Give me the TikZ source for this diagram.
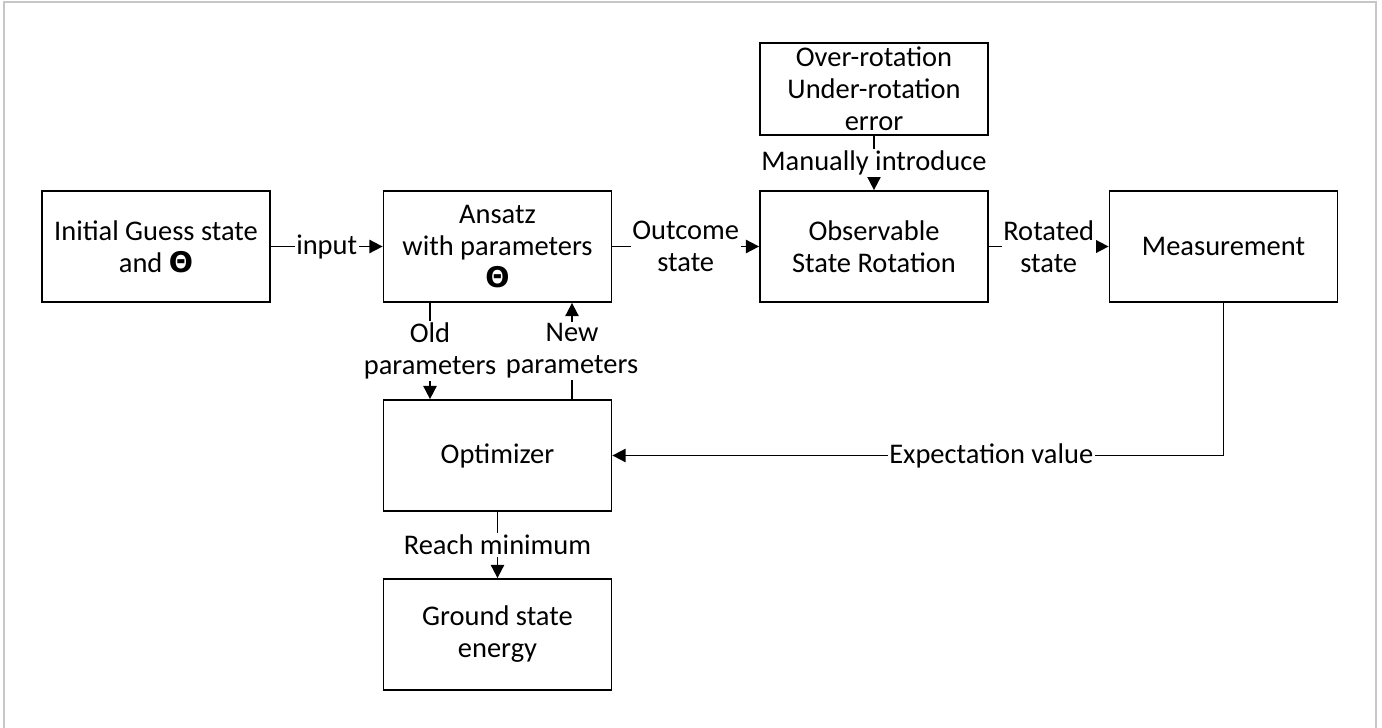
\documentclass[tikz,border=0pt]{standalone}
\usepackage{fontspec}
\setmainfont{Carlito}
\newfontfamily\thetafont{DejaVu Sans}
\usetikzlibrary{arrows.meta}

\newcommand{\bigtheta}{{\thetafont\bfseries Θ}}

\tikzset{
  block/.style={draw, line width=1pt, minimum width=4.56cm, minimum height=2.22cm, align=center},
  flow/.style={line width=1pt, -{Triangle[length=7.5pt,width=7.5pt]}},
  tag/.style={fill=white, inner sep=1pt, align=center}
}

\begin{document}
\begin{tikzpicture}[font=\fontsize{16.2}{18.2}\selectfont]
    \useasboundingbox (0,0) rectangle (27.64,-14.54);
    % Frame
    \draw[black!22, line width=1pt] (0.08,-14.6) -- (0.08,-0.04) -- (27.52,-0.04) -- (27.52,-14.6);

    % Blocks
    \node[block] (guess) at (3.12,-4.93) {Initial Guess state\\and \bigtheta};
    \node[block] (ansatz) at (9.95,-4.93) {Ansatz\\with parameters\\\bigtheta};
    \node[block] (rotation) at (17.48,-4.93) {Observable\\State Rotation};
    \node[block] (measure) at (24.47,-4.93) {Measurement};
    \node[block, minimum height=1.84cm, inner ysep=0pt] (error) at (17.48,-1.78) {Over-rotation\\Under-rotation\\error};
    \node[block] (optimizer) at (9.95,-9.11) {Optimizer};
    \node[block] (ground) at (9.95,-12.69) {Ground state\\energy};

    % Main flow
    \draw[flow] (guess) -- node[tag] {input} (ansatz);
    \draw[flow] (ansatz) -- node[tag] {Outcome\\state} (rotation);
    \draw[flow] (rotation) -- node[tag] {Rotated\\state} (measure);
    \draw[flow] (error) -- node[tag] {Manually introduce} (rotation);

    % Feedback loop
    \draw[flow] (measure.south) |- node[tag, pos=0.69] {Expectation value} (optimizer.east);
    \draw[flow] ([xshift=-1.35cm]ansatz.south) -- node[tag] {Old\\parameters} ([xshift=-1.35cm]optimizer.north);
    \draw[flow] ([xshift=1.49cm]optimizer.north) -- node[tag] {New\\parameters} ([xshift=1.49cm]ansatz.south);
    \draw[flow] (optimizer) -- node[tag] {Reach minimum} (ground);
\end{tikzpicture}
\end{document}
